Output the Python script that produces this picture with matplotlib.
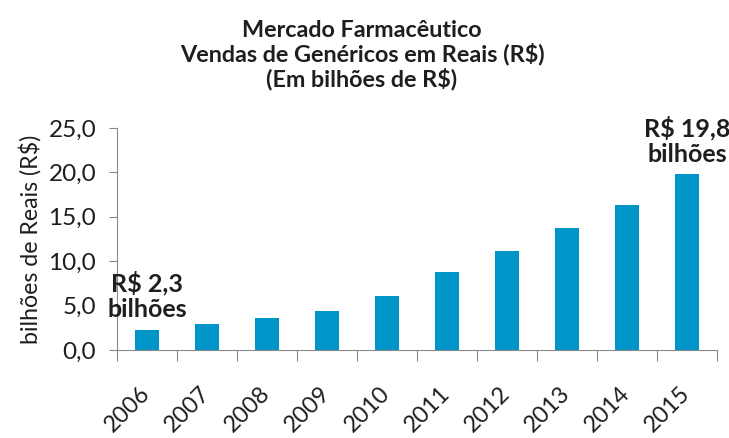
import matplotlib.pyplot as plt

years = ['2006', '2007', '2008', '2009', '2010', '2011', '2012', '2013', '2014', '2015']
sales = [2.3, 2.9, 3.6, 4.4, 6.1, 8.8, 11.1, 13.7, 16.3, 19.8]
yticks = [0, 5, 10, 15, 20, 25]

plt.rcParams['font.family'] = ['Lato', 'DejaVu Sans']
text_color = '#1e1e1e'
axis_color = '#8a8a8a'

fig = plt.figure(figsize=(7.29, 4.38), dpi=100)
# axes box in pixels: x 117..717, y 128..350
ax = fig.add_axes([117 / 729, 1 - 350 / 438, 600 / 729, 222 / 438])

x = range(len(years))
ax.bar(x, sales, width=0.39, color='#0095c8')

ax.set_xlim(-0.5, len(years) - 0.5)
ax.set_ylim(0, 25)
ax.set_yticks(yticks)
ax.set_yticklabels([('%.1f' % v).replace('.', ',') for v in yticks])

# category borders get the tick marks, labels sit at the bar centres
ax.set_xticks([i - 0.5 for i in range(len(years) + 1)])
ax.set_xticklabels([''] * (len(years) + 1))
ax.set_xticks(list(x), minor=True)
ax.set_xticklabels(years, minor=True, rotation=45, ha='right', va='center',
                   rotation_mode='anchor', fontsize=16.8, color=text_color)
ax.tick_params(axis='x', which='minor', length=0, pad=29)
ax.tick_params(axis='x', which='major', length=8, color=axis_color, direction='out')
ax.tick_params(axis='y', length=6, color=axis_color, labelsize=17.5,
               labelcolor=text_color, pad=9)

for side in ['top', 'right']:
    ax.spines[side].set_visible(False)
for side in ['left', 'bottom']:
    ax.spines[side].set_color(axis_color)

ax.set_ylabel('bilhões de Reais (R$)', fontsize=16.7, color=text_color, labelpad=5)

# annotations on first and last bar
for i, label in [(0, 'R$ 2,3\nbilhões'), (9, 'R$ 19,8\nbilhões')]:
    ax.annotate(label, (i, sales[i]), xytext=(0, 6), textcoords='offset points',
                ha='center', va='bottom', fontsize=18, fontweight='bold',
                color=text_color, linespacing=1.15)

fig.text(362 / 729, 1 - 55 / 438,
         'Mercado Farmacêutico\nVendas de Genéricos em Reais (R$)\n(Em bilhões de R$)',
         ha='center', va='center', fontsize=16.8, fontweight='bold',
         color=text_color, linespacing=1.1)

fig.savefig('out.png', dpi=100)
